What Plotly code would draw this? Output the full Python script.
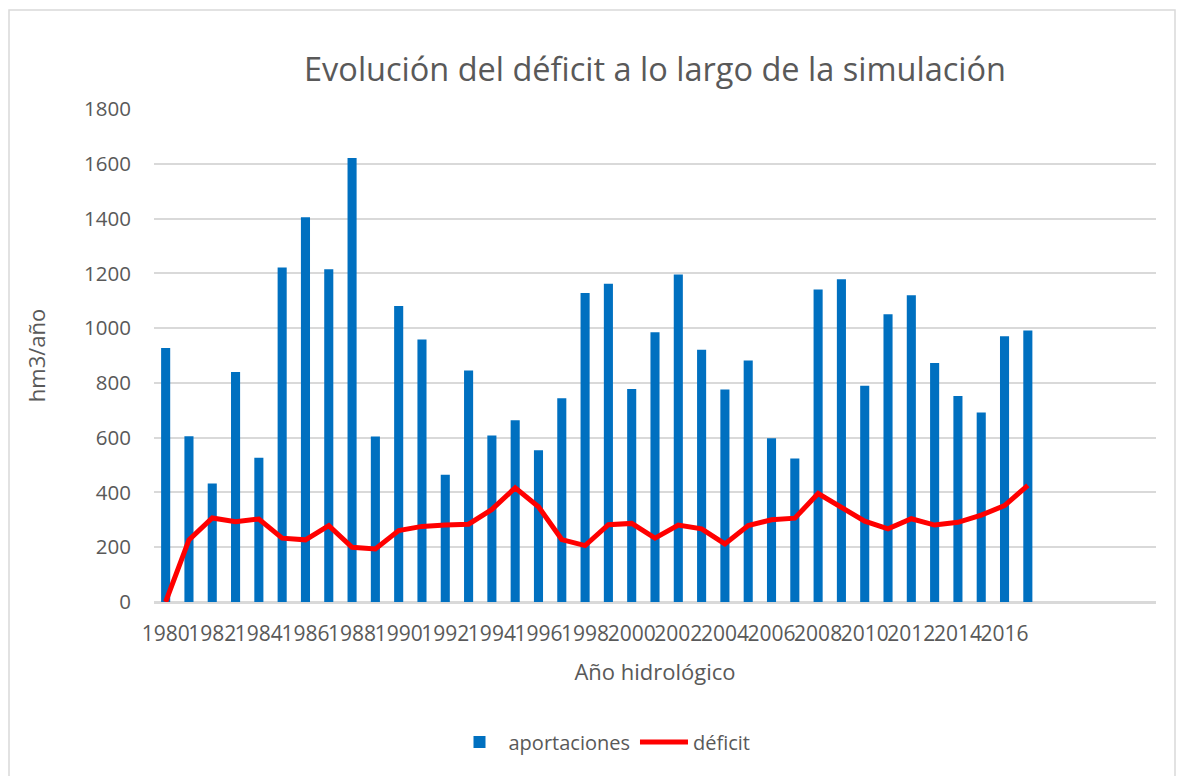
import plotly.graph_objects as go

years = list(range(1980, 2018))
aportaciones = [927, 605, 433, 840, 527, 1221, 1405, 1215, 1621, 604,
                1081, 958, 465, 845, 608, 664, 554, 744, 1128, 1162,
                778, 985, 1196, 921, 776, 882, 598, 524, 1141, 1178,
                790, 1051, 1120, 873, 752, 692, 970, 991]
deficit = [0, 227, 307, 293, 303, 233, 227, 279, 200, 194,
           261, 276, 281, 284, 338, 417, 348, 228, 206, 282,
           287, 233, 281, 267, 212, 279, 300, 306, 396, 347,
           295, 267, 304, 281, 291, 317, 352, 426]
tick_years = list(range(1980, 2017, 2))
tick_labels = [str(y) for y in tick_years]
y_ticks = list(range(0, 1801, 200))

FONT = "Open Sans"
TXT = "#595959"
GRID = "#D9D9D9"

fig = go.Figure()
fig.add_trace(go.Bar(x=years, y=aportaciones, name="aportaciones",
                     marker=dict(color="#0070C0", line=dict(width=0))))
fig.add_trace(go.Scatter(x=years, y=deficit, name="déficit", mode="lines",
                         line=dict(color="#FF0000", width=5)))

W, H = 1184, 776
L, R, T, B = 154, 1156, 109, 602
pw, ph = R - L, B - T

fig.update_layout(
    width=W, height=H,
    margin=dict(l=L, r=W - R, t=T, b=H - B),
    paper_bgcolor="white", plot_bgcolor="white",
    font=dict(family=FONT, color=TXT, size=20),
    bargap=0.61,
    title=dict(text="Evolución del déficit a lo largo de la simulación",
               x=655 / W, xanchor="center", y=1 - 70 / H, yanchor="middle",
               font=dict(size=32.5, color=TXT, family=FONT)),
    xaxis=dict(range=[1979.5, 2022.5], tickmode="array", tickvals=tick_years,
               ticktext=tick_labels, tickangle=0, showgrid=False,
               showline=True, linecolor=GRID, linewidth=2,
               ticks="", ticklabelstandoff=12,
               tickfont=dict(size=21, color=TXT),
               title=dict(text="Año hidrológico", font=dict(size=22, color=TXT),
                          standoff=18),
               zeroline=False, fixedrange=True),
    yaxis=dict(range=[0, 1800], tickmode="array", tickvals=y_ticks,
               showgrid=True, gridcolor=GRID, gridwidth=1.5,
               zeroline=True, zerolinecolor=GRID, zerolinewidth=2,
               showline=False, ticks="", ticklabelstandoff=22,
               tickfont=dict(size=20.5, color=TXT),
               title=dict(text="hm3/año", font=dict(size=22, color=TXT),
                          standoff=32),
               fixedrange=True),
    legend=dict(orientation="h", x=(603 - L) / pw, xanchor="center",
                y=(B - 742) / ph, yanchor="middle",
                font=dict(size=20, color=TXT), itemwidth=48,
                traceorder="normal", bgcolor="rgba(0,0,0,0)"),
    shapes=[dict(type="rect", xref="paper", yref="paper",
                 x0=(9 - L) / pw, x1=(1175 - L) / pw,
                 y0=(B - 790) / ph, y1=(B - 10) / ph,
                 line=dict(color=GRID, width=1.5), fillcolor="rgba(0,0,0,0)",
                 layer="below")],
)

fig.write_html("out.html", config={"displayModeBar": False},
               post_script="document.body.style.margin='0';document.body.style.overflow='hidden';")
